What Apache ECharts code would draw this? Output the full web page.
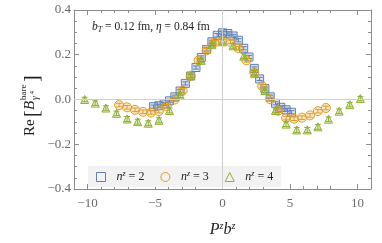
<!DOCTYPE html>
<html><head><meta charset="utf-8">
<script src="https://cdn.jsdelivr.net/npm/echarts@6/dist/echarts.min.js"></script>
<style>html,body{margin:0;padding:0;background:#fff}#c{width:382px;height:243px}</style>
</head><body><div id="c"></div>
<script>
// P^z b^z positions for each n^z (z = -13 .. 13)
const x2 = [-5.105,-4.712,-4.320,-3.927,-3.534,-3.142,-2.749,-2.356,-1.963,-1.571,-1.178,-0.785,-0.393,0,0.393,0.785,1.178,1.571,1.963,2.356,2.749,3.142,3.534,3.927,4.320,4.712,5.105];
const x3 = [-7.658,-7.069,-6.480,-5.890,-5.301,-4.712,-4.123,-3.534,-2.945,-2.356,-1.767,-1.178,-0.589,0,0.589,1.178,1.767,2.356,2.945,3.534,4.123,4.712,5.301,5.890,6.480,7.069,7.658];
const x4 = [-10.210,-9.425,-8.639,-7.854,-7.069,-6.283,-5.498,-4.712,-3.927,-3.142,-2.356,-1.571,-0.785,0,0.785,1.571,2.356,3.142,3.927,4.712,5.498,6.283,7.069,7.854,8.639,9.425,10.210];
// Re[B^bare] values
const y2 = [-0.032,-0.028,-0.020,-0.006,0.012,0.038,0.072,0.105,0.143,0.188,0.224,0.258,0.287,0.298,0.295,0.284,0.265,0.229,0.190,0.139,0.092,0.049,0.012,-0.017,-0.035,-0.046,-0.057];
const y3 = [-0.025,-0.035,-0.046,-0.055,-0.058,-0.052,-0.030,0.000,0.040,0.105,0.175,0.220,0.255,0.262,0.258,0.229,0.175,0.120,0.060,0.001,-0.050,-0.083,-0.086,-0.081,-0.071,-0.052,-0.038];
const y4 = [0.000,-0.016,-0.038,-0.062,-0.087,-0.099,-0.106,-0.093,-0.049,0.020,0.107,0.175,0.245,0.258,0.240,0.194,0.117,0.040,-0.049,-0.110,-0.136,-0.136,-0.122,-0.088,-0.052,-0.023,0.004];
// error bars
const e2 = [0.007,0.007,0.007,0.007,0.007,0.007,0.007,0.007,0.007,0.007,0.007,0.007,0.008,0.008,0.008,0.007,0.007,0.007,0.007,0.007,0.007,0.007,0.007,0.007,0.007,0.007,0.007];
const e3 = [0.008,0.008,0.008,0.008,0.008,0.008,0.008,0.008,0.008,0.008,0.008,0.008,0.008,0.009,0.008,0.008,0.008,0.008,0.008,0.008,0.008,0.008,0.008,0.008,0.008,0.008,0.008];
const e4 = [0.010,0.010,0.010,0.010,0.011,0.011,0.011,0.011,0.011,0.011,0.011,0.011,0.011,0.011,0.011,0.011,0.011,0.011,0.011,0.011,0.011,0.011,0.011,0.010,0.010,0.010,0.010];
const names = ['2','3','4'];
const xTicks = [-10,-5,0,5,10];

const cols = ['#5E81B5','#E19C24','#8FB032'];
const fills = ['rgba(94,129,181,0.22)','rgba(225,156,36,0.22)','rgba(143,176,50,0.22)'];
const syms = ['rect','circle','triangle'];
const sizes = [8,9,8];
const XS=[x2,x3,x4], YS=[y2,y3,y4], ES=[e2,e3,e4];
const serif = "'Liberation Serif', 'DejaVu Serif', serif";
const minus = v => String(v).replace('-', '\u2212');

const series = [];
names.forEach((n,i)=>{
  const pts = XS[i].map((x,k)=>[x, YS[i][k], ES[i][k]]);
  series.push({
    type:'custom', name:'err'+n, data:pts, z:2+i, silent:true,
    renderItem:(params, api)=>{
      const x=api.value(0), y=api.value(1), e=api.value(2);
      const p1=api.coord([x,y-e]), p2=api.coord([x,y+e]);
      const w=3; const st={stroke:cols[i], lineWidth:1};
      return {type:'group', children:[
        {type:'line', shape:{x1:p1[0],y1:p1[1],x2:p2[0],y2:p2[1]}, style:st},
        {type:'line', shape:{x1:p1[0]-w,y1:p1[1],x2:p1[0]+w,y2:p1[1]}, style:st},
        {type:'line', shape:{x1:p2[0]-w,y1:p2[1],x2:p2[0]+w,y2:p2[1]}, style:st}
      ]};
    }
  });
  series.push({
    type:'scatter', name:'n'+n, data:pts.map(p=>[p[0],p[1]]), z:2+i,
    symbol:syms[i], symbolSize:sizes[i],
    itemStyle:{color:fills[i], borderColor:cols[i], borderWidth:1, opacity:1},
    emphasis:{disabled:true}
  });
});
// zero lines
series.push({type:'line', data:[], z:1, silent:true,
  markLine:{silent:true, symbol:'none', label:{show:false},
    lineStyle:{color:'#cfcfcf', width:1, type:'solid'},
    data:[{xAxis:0},{yAxis:0}]}});

const lineSt = {show:true, onZero:false, lineStyle:{color:'#8c8c8c', width:1}};
const tickY = {show:true, inside:true, length:5, lineStyle:{color:'#8c8c8c'}};
const tickX = {show:true, inside:true, length:5, lineStyle:{color:'#8c8c8c'}, customValues:xTicks};
const minX = {show:true, length:3, splitNumber:5, lineStyle:{color:'#8c8c8c'}};
const minY = {show:true, length:3, splitNumber:4, lineStyle:{color:'#8c8c8c'}};
const T = (text, x, y, font) => ({type:'text', x:x, y:y,
  style:{text:text, font:font, fill:'#222', verticalAlign:'middle', align:'left'}});

const option = {
  animation:false,
  backgroundColor:'#fff',
  grid:{left:74, right:11, top:10, bottom:49},
  xAxis:[
    {type:'value', min:-11, max:11, interval:5, position:'bottom',
      axisLine:lineSt, splitLine:{show:false}, axisTick:tickX, minorTick:minX,
      axisLabel:{show:true, color:'#6a6a6a', fontFamily:serif, fontSize:13, margin:8,
        customValues:xTicks, formatter:v=>minus(v)},
      name:'{i|P}{s|z}{i|b}{s|z}', nameLocation:'middle', nameGap:32,
      nameTextStyle:{rich:{
        i:{fontFamily:serif, fontStyle:'italic', fontSize:16, color:'#222', lineHeight:18},
        s:{fontFamily:serif, fontStyle:'italic', fontSize:10, color:'#222', lineHeight:10, verticalAlign:'top'}
      }}},
    {type:'value', min:-11, max:11, interval:5, position:'top',
      axisLine:lineSt, splitLine:{show:false}, axisLabel:{show:false},
      axisTick:tickX, minorTick:minX}
  ],
  yAxis:[
    {type:'value', min:-0.4, max:0.4, interval:0.2, position:'left',
      axisLine:lineSt, splitLine:{show:false}, axisTick:tickY, minorTick:minY,
      axisLabel:{show:true, color:'#6a6a6a', fontFamily:serif, fontSize:13, margin:3,
        formatter:v=>minus(v.toFixed(1))}},
    {type:'value', min:-0.4, max:0.4, interval:0.2, position:'right',
      axisLine:lineSt, splitLine:{show:false}, axisLabel:{show:false},
      axisTick:tickY, minorTick:minY}
  ],
  legend:{
    left:88, top:166, orient:'horizontal', backgroundColor:'#f2f2f2', borderWidth:0,
    padding:[4,8,4,8], itemGap:16, itemWidth:9, itemHeight:9,
    selectedMode:false,
    data:names.map((n,i)=>({name:'n'+n, icon:syms[i],
      itemStyle:{color:'rgba(255,255,255,0)', borderColor:cols[i], borderWidth:1}})),
    formatter:name=>'{i|n}{s|z}{t| = '+name.slice(1)+'}',
    textStyle:{padding:[0,0,0,6], rich:{
      i:{fontFamily:serif, fontStyle:'italic', fontSize:12, color:'#222', lineHeight:14},
      s:{fontFamily:serif, fontStyle:'italic', fontSize:8, color:'#222', lineHeight:8, verticalAlign:'top'},
      t:{fontFamily:serif, fontSize:12, color:'#222', lineHeight:14}
    }}
  },
  graphic:[
    {type:'text', left:92, top:21, style:{
      text:'{i|b}{sub|T}{t| = 0.12 fm, }{i|η}{t| = 0.84 fm}',
      rich:{
        i:{fontFamily:serif, fontStyle:'italic', fontSize:11.5, fill:'#222', lineHeight:14},
        sub:{fontFamily:serif, fontStyle:'italic', fontSize:8, fill:'#222', lineHeight:8, verticalAlign:'bottom'},
        t:{fontFamily:serif, fontSize:11.5, fill:'#222', lineHeight:14}
      }}},
    {type:'group', x:35, y:102, rotation:Math.PI/2, children:[
      T('Re', -34, -4.5, '15px '+serif),
      T('[', -15, -2.5, '20px '+serif),
      T('B', -8, -4.5, 'italic 15px '+serif),
      T('bare', 2, -11, '9px '+serif),
      T('γ', 2, 0.5, 'italic 10px '+serif),
      T('4', 7.5, -2.5, '7px '+serif),
      T(']', 20, -2.5, '20px '+serif)
    ]}
  ],
  series:series
};
const chart = echarts.init(document.getElementById('c'), null, {renderer:'canvas'});
chart.setOption(option);
</script></body></html>
